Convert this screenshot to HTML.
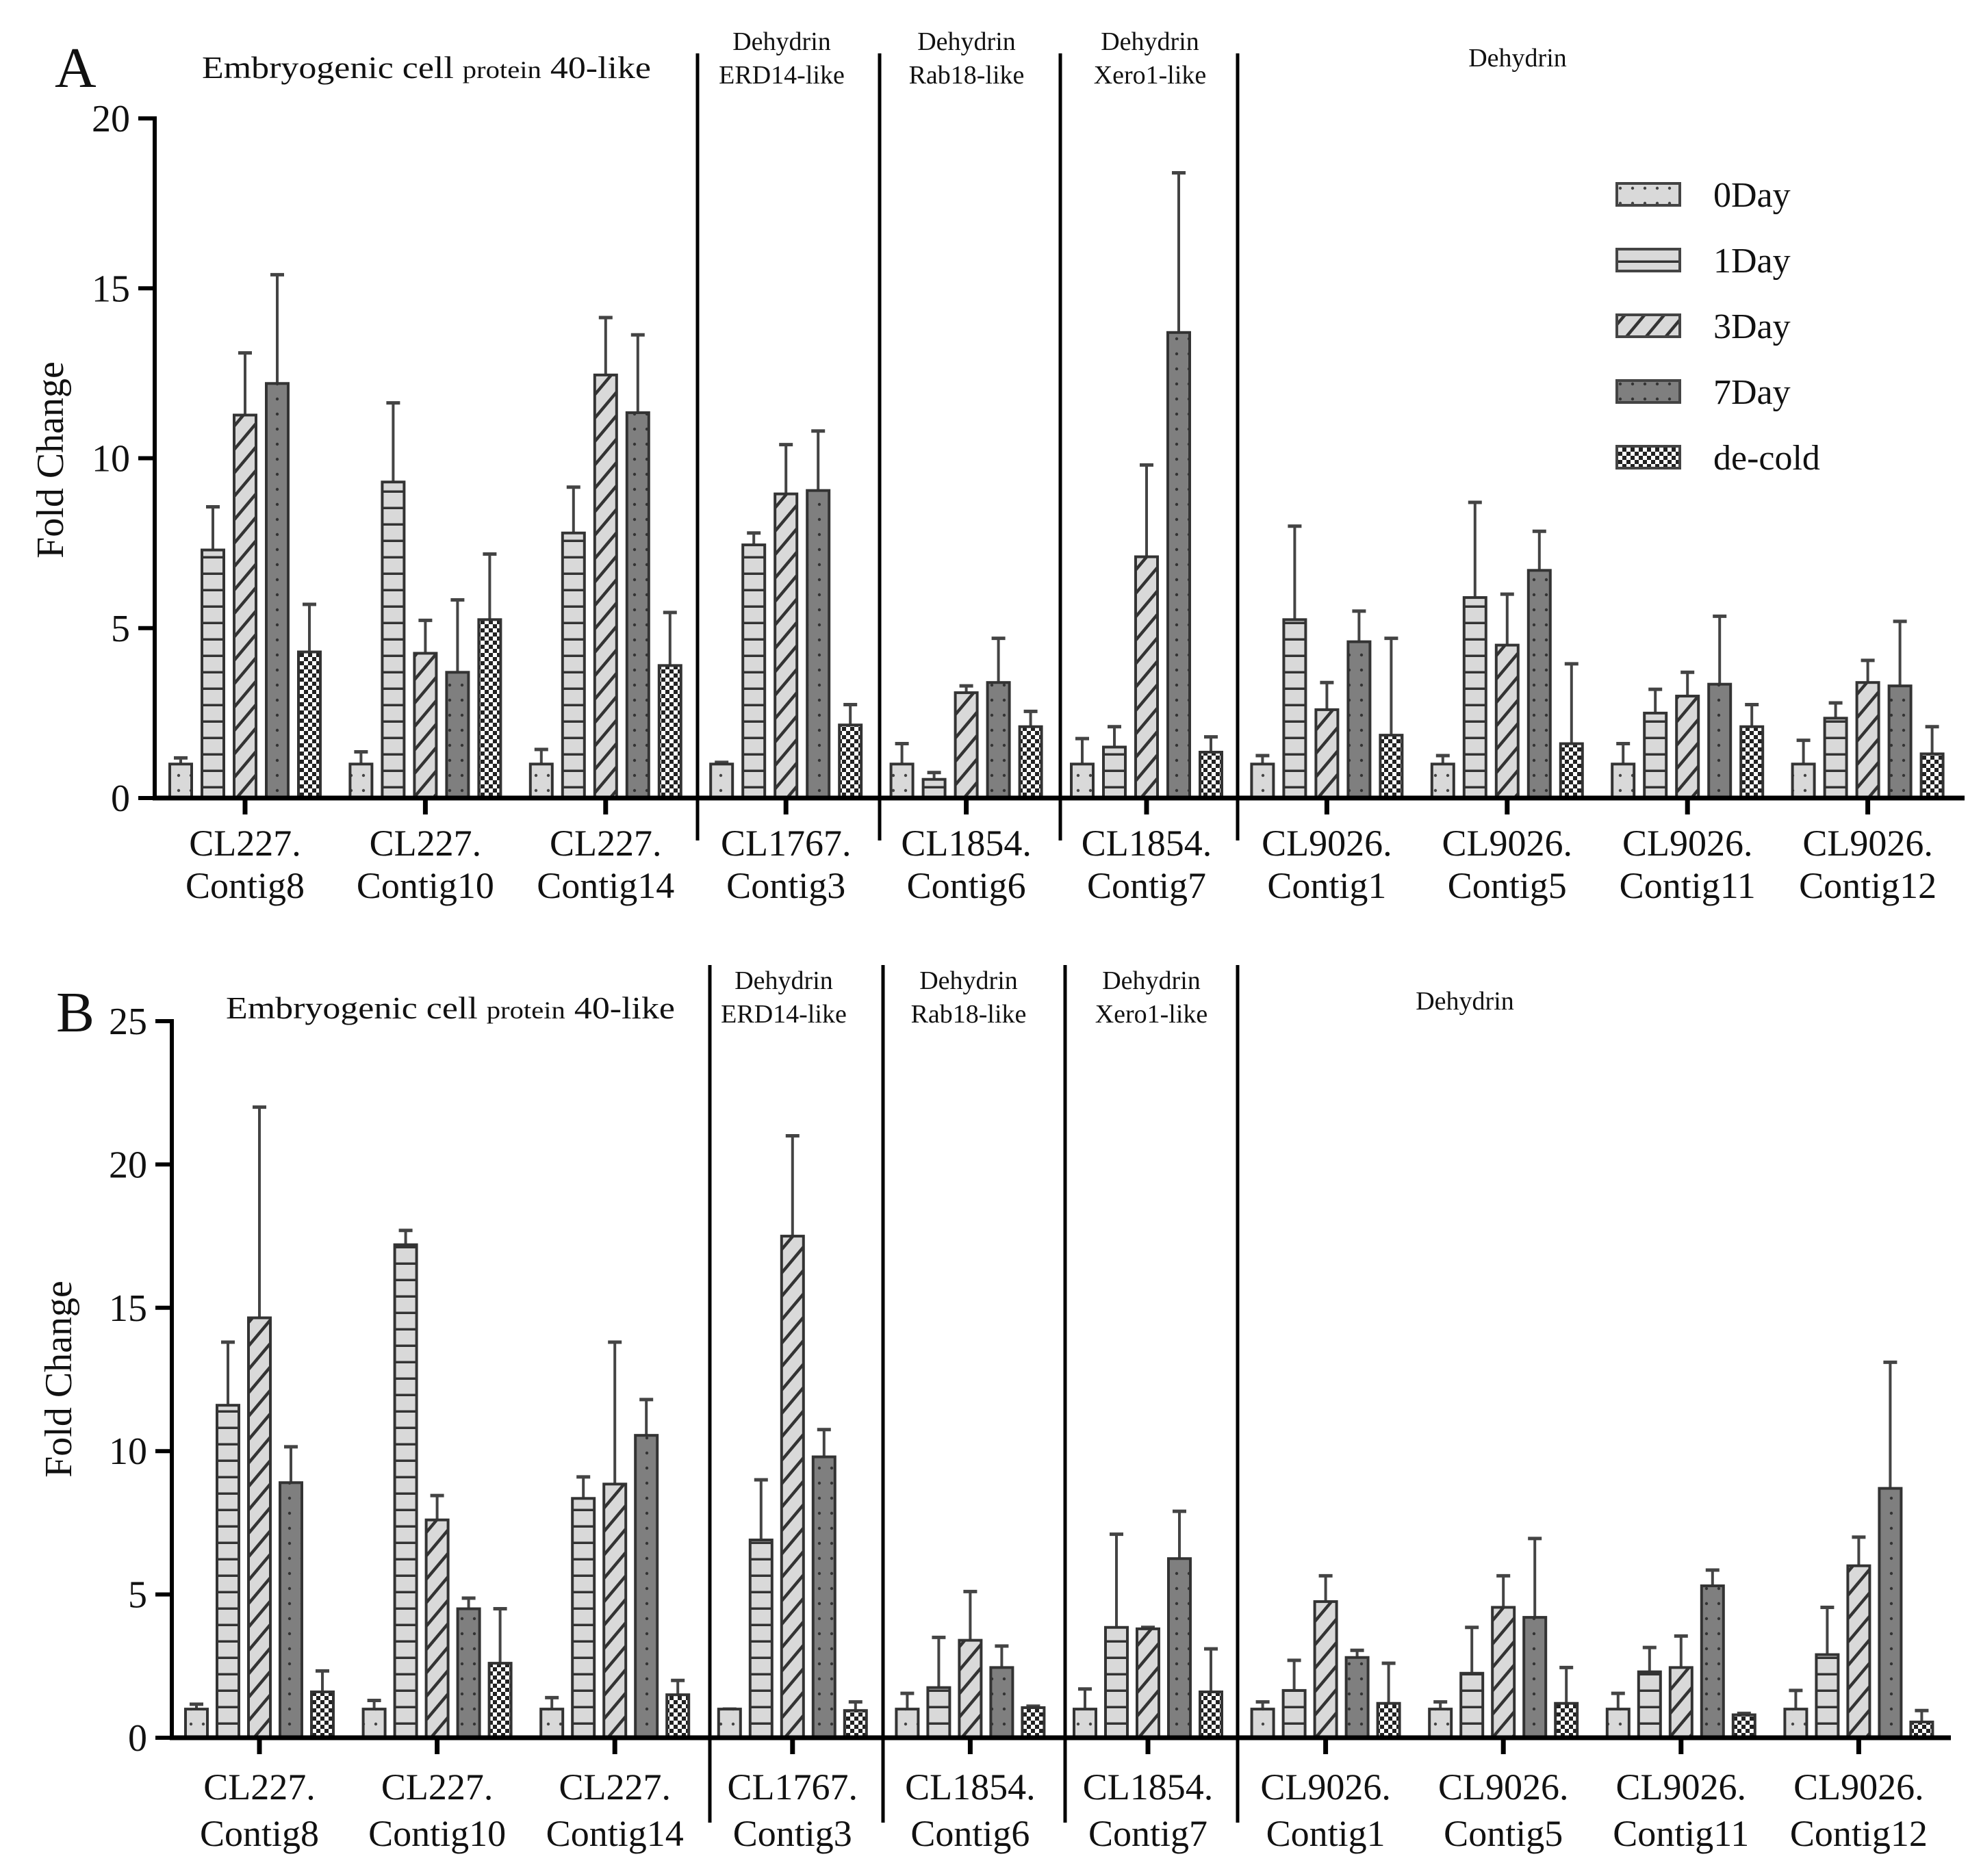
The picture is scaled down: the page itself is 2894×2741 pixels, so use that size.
<!DOCTYPE html>
<html><head><meta charset="utf-8"><style>
html,body{margin:0;padding:0;background:#fff;}
svg{display:block;}
text{font-family:"Liberation Serif",serif;fill:#111;}
</style></head><body>
<svg id="chart" width="2894" height="2741" viewBox="0 0 2894 2741" xmlns="http://www.w3.org/2000/svg">
<defs>
<pattern id="p0" patternUnits="userSpaceOnUse" width="18" height="22"><rect width="18" height="22" fill="#d9d9d9"/><circle cx="9" cy="11" r="2.2" fill="#444"/></pattern>
<pattern id="p1" patternUnits="userSpaceOnUse" width="40" height="24"><rect width="40" height="24" fill="#d9d9d9"/><rect y="20.5" width="40" height="4" fill="#333"/></pattern>
<pattern id="p3" patternUnits="userSpaceOnUse" width="22" height="22" patternTransform="rotate(40)"><rect width="22" height="22" fill="#d9d9d9"/><rect x="0" width="4.5" height="22" fill="#333"/></pattern>
<pattern id="p7" patternUnits="userSpaceOnUse" width="18" height="22"><rect width="18" height="22" fill="#7f7f7f"/><circle cx="9" cy="11" r="2.2" fill="#333"/></pattern>
<pattern id="pd" patternUnits="userSpaceOnUse" width="12" height="12"><rect width="12" height="12" fill="#fff"/><rect width="6" height="6" fill="#222"/><rect x="6" y="6" width="6" height="6" fill="#222"/></pattern>
</defs>
</svg>
<script>
const categories = ["CL227.|Contig8","CL227.|Contig10","CL227.|Contig14","CL1767.|Contig3","CL1854.|Contig6","CL1854.|Contig7","CL9026.|Contig1","CL9026.|Contig5","CL9026.|Contig11","CL9026.|Contig12"];
const seriesNames = ["0Day","1Day","3Day","7Day","de-cold"];
// Panel A values per series (10 groups)
const a0Day = [1,1,1,1,1,1,1,1,1,1];
const a0DayErr = [1.18,1.36,1.43,1.05,1.6,1.75,1.25,1.25,1.6,1.7];
const a1Day = [7.3,9.3,7.8,7.45,0.55,1.5,5.25,5.9,2.5,2.35];
const a1DayErr = [8.57,11.63,9.15,7.8,0.75,2.1,8.0,8.7,3.2,2.8];
const a3Day = [11.27,4.26,12.45,8.95,3.1,7.1,2.6,4.5,3.0,3.4];
const a3DayErr = [13.1,5.23,14.14,10.4,3.3,9.8,3.4,6.0,3.7,4.05];
const a7Day = [12.2,3.7,11.34,9.05,3.4,13.7,4.6,6.7,3.35,3.3];
const a7DayErr = [15.4,5.83,13.63,10.8,4.7,18.4,5.5,7.85,5.35,5.2];
const aDecold = [4.3,5.25,3.9,2.15,2.1,1.35,1.85,1.6,2.1,1.3];
const aDecoldErr = [5.7,7.18,5.46,2.75,2.55,1.8,4.7,3.95,2.75,2.1];
// Panel B
const b0Day = [1,1,1,1,1,1,1,1,1,1];
const b0DayErr = [1.17,1.3,1.4,1.0,1.55,1.7,1.25,1.25,1.55,1.65];
const b1Day = [11.6,17.2,8.35,6.9,1.75,3.85,1.65,2.25,2.3,2.9];
const b1DayErr = [13.8,17.7,9.1,9.0,3.5,7.1,2.7,3.85,3.15,4.55];
const b3Day = [14.65,7.6,8.85,17.5,3.4,3.8,4.75,4.55,2.45,6.0];
const b3DayErr = [22.0,8.45,13.8,21.0,5.1,3.85,5.65,5.65,3.55,7.0];
const b7Day = [8.9,4.5,10.55,9.8,2.45,6.25,2.8,4.2,5.3,8.7];
const b7DayErr = [10.15,4.87,11.8,10.75,3.2,7.9,3.05,6.95,5.85,13.1];
const bDecold = [1.6,2.6,1.5,0.95,1.05,1.6,1.2,1.2,0.8,0.55];
const bDecoldErr = [2.33,4.5,2.0,1.25,1.1,3.1,2.6,2.45,0.85,0.95];
const aTicks = [0,5,10,15,20];
const bTicks = [0,5,10,15,20,25];

const NS="http://www.w3.org/2000/svg";
const svg=document.getElementById('chart');
const fills=["url(#p0)","url(#p1)","url(#p3)","url(#p7)","url(#pd)"];
function mk(tag,attrs,parent){const e=document.createElementNS(NS,tag);for(const k in attrs)e.setAttribute(k,attrs[k]);(parent||svg).appendChild(e);return e;}

function panel(cfg){
  const g=mk('g',{});
  
  
  const yS=v=>cfg.y0-(v/cfg.ymax)*(cfg.y0-cfg.ytop);
  const xS=i=>cfg.c0+cfg.step*i;
  cfg.series.forEach((s,k)=>{
    s.vals.forEach((v,i)=>{
      const cx=xS(i)+(k-2)*cfg.pitch;
      const top=yS(v), eb=yS(s.err[i]);
      const ln=mk('line',{x1:cx,x2:cx,y1:eb,y2:top,stroke:'#444','stroke-width':4},g);
      
      
      const cap=mk('line',{x1:cx-10,x2:cx+10,y1:eb,y2:eb,stroke:'#444','stroke-width':5},g);
      
      
      const r=mk('rect',{x:cx-16,y:top,width:32,height:cfg.y0-top,fill:fills[k],stroke:'#333','stroke-width':4},g);
      
      
    });
  });
  const ya=mk('line',{x1:cfg.ax,x2:cfg.ax,y1:cfg.ytop-3,y2:cfg.y0+3,stroke:'#000','stroke-width':6},g);
  
  
  const xa=mk('line',{x1:cfg.ax-3,x2:cfg.xend,y1:cfg.y0,y2:cfg.y0,stroke:'#000','stroke-width':7},g);
  
  
  cfg.ticks.forEach(t=>{
    const y=yS(t);
    mk('line',{x1:cfg.ax-24,x2:cfg.ax,y1:y,y2:y,stroke:'#000','stroke-width':6},g);
    const tl=mk('text',{x:cfg.ax-36,y:y+19,'font-size':56,'text-anchor':'end'},g);
    tl.textContent=t;
    
    
  });
  categories.forEach((c,i)=>{
    const x=xS(i);
    mk('line',{x1:x,x2:x,y1:cfg.y0,y2:cfg.y0+24,stroke:'#000','stroke-width':7},g);
    const parts=c.split('|');
    const l1=mk('text',{x:x,y:cfg.lab1,'font-size':54,'text-anchor':'middle'},g);
    l1.textContent=parts[0];
    
    
    const l2=mk('text',{x:x,y:cfg.lab2,'font-size':54,'text-anchor':'middle'},g);
    l2.textContent=parts[1];
    
    
  });
  cfg.seps.forEach(sx=>{
    const s=mk('line',{x1:sx,x2:sx,y1:cfg.sepTop,y2:cfg.sepBot,stroke:'#000','stroke-width':5},g);
    
    
  });
  const yt=mk('text',{x:0,y:0,'font-size':56,'text-anchor':'middle',transform:`translate(${cfg.ytX},${cfg.ytY}) rotate(-90)`},g);
  yt.textContent='Fold Change';
  
  
  const pl=mk('text',{x:cfg.letterX,y:cfg.letterY,'font-size':84},g);
  pl.textContent=cfg.letter;
  
  
  const eh=mk('text',{x:cfg.embX,y:cfg.embY,'font-size':46,textLength:656,lengthAdjust:'spacingAndGlyphs'},g);
  eh.innerHTML='Embryogenic cell <tspan font-size="36">protein</tspan> 40-like';
  
  
  cfg.dh.forEach(d=>{
    const t1=mk('text',{x:d[0],y:d[1],'font-size':38,'text-anchor':'middle'},g);
    t1.textContent='Dehydrin';
    
    
    if(d[2]){const t2=mk('text',{x:d[0],y:d[1]+49,'font-size':38,'text-anchor':'middle'},g);
    t2.textContent=d[2];
    
    }
  });
}

panel({name:'panel-a',letter:'A',letterX:80,letterY:127,ax:226,y0:1166,ytop:173,ymax:20,ticks:aTicks,c0:358,step:263.4,pitch:47,xend:2870,
  lab1:1250,lab2:1312,seps:[1019,1285,1549,1808],sepTop:78,sepBot:1228,ytX:92,ytY:672,embX:295,embY:114,
  dh:[[1142,73,'ERD14-like'],[1412,73,'Rab18-like'],[1680,73,'Xero1-like'],[2217,97,null]],
  series:[{vals:a0Day,err:a0DayErr},{vals:a1Day,err:a1DayErr},{vals:a3Day,err:a3DayErr},{vals:a7Day,err:a7DayErr},{vals:aDecold,err:aDecoldErr}]});
panel({name:'panel-b',letter:'B',letterX:82,letterY:1507,ax:251,y0:2539,ytop:1492,ymax:25,ticks:bTicks,c0:379,step:259.6,pitch:46,xend:2850,
  lab1:2629,lab2:2697,seps:[1037,1290,1556,1808],sepTop:1410,sepBot:2663,ytX:104,ytY:2015,embX:330,embY:1488,
  dh:[[1145,1445,'ERD14-like'],[1415,1445,'Rab18-like'],[1682,1445,'Xero1-like'],[2140,1475,null]],
  series:[{vals:b0Day,err:b0DayErr},{vals:b1Day,err:b1DayErr},{vals:b3Day,err:b3DayErr},{vals:b7Day,err:b7DayErr},{vals:bDecold,err:bDecoldErr}]});

seriesNames.forEach((n,k)=>{
  const cy=284+96*k;
  const r=mk('rect',{x:2362,y:cy-16,width:92,height:32,fill:fills[k],stroke:'#444','stroke-width':4});
  
  
  const t=mk('text',{x:2503,y:cy+18,'font-size':52});
  t.textContent=n;
  
  
});
</script>
</body></html>
